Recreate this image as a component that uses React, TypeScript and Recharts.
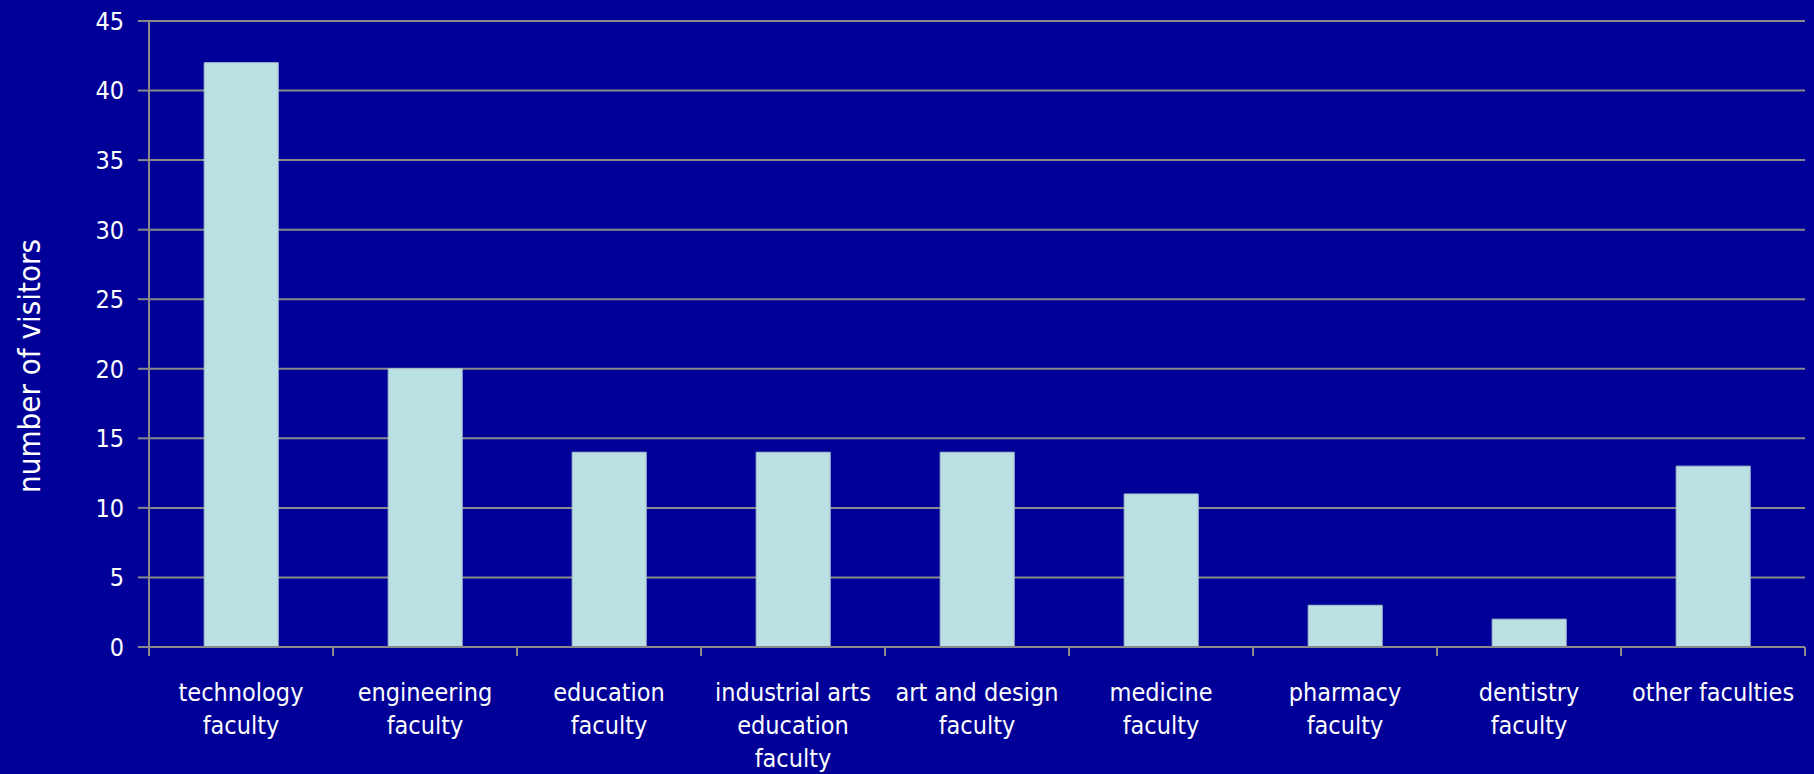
import { BarChart, Bar, XAxis, YAxis, CartesianGrid } from "recharts";

// faculty names, line breaks as in the original chart
const categories = [
  "technology\nfaculty",
  "engineering\nfaculty",
  "education\nfaculty",
  "industrial arts\neducation\nfaculty",
  "art and design\nfaculty",
  "medicine\nfaculty",
  "pharmacy\nfaculty",
  "dentistry\nfaculty",
  "other faculties",
];
const visitors = [42, 20, 14, 14, 14, 11, 3, 2, 13];
const yTicks = [0, 5, 10, 15, 20, 25, 30, 35, 40, 45];

const W = 1814;
const H = 774;
const BG = "#000099";
const BAR = "#BBE0E3";
const GRID = "#8a8a8a";
const FONT = "'DejaVu Sans Condensed', 'DejaVu Sans', sans-serif";

const data = categories.map((name, i) => ({ name, value: visitors[i] }));

const CategoryTick = (props: any) => {
  const { x, y, payload, index } = props;
  const half = payload?.offset ?? (W - 149 - 9) / categories.length / 2;
  const lines = String(payload.value).split("\n");
  return (
    <g>
      <line x1={x - half} y1={y} x2={x - half} y2={y + 9} stroke={GRID} strokeWidth={2} />
      {index === categories.length - 1 && (
        <line x1={x + half} y1={y} x2={x + half} y2={y + 9} stroke={GRID} strokeWidth={2} />
      )}
      <text x={x} y={y + 54} textAnchor="middle" fill="#fff" fontSize={25} fontFamily={FONT}>
        {lines.map((l, i) => (
          <tspan key={i} x={x} dy={i === 0 ? 0 : 33}>
            {l}
          </tspan>
        ))}
      </text>
    </g>
  );
};

const YLabel = (props: any) => {
  const vb = props.viewBox || {};
  const cx = 29;
  const cy = vb.y + vb.height / 2 + 32;
  return (
    <text
      x={cx}
      y={cy}
      transform={`rotate(-90, ${cx}, ${cy})`}
      textAnchor="middle"
      dominantBaseline="central"
      fill="#fff"
      fontSize={31}
      fontFamily={FONT}
    >
      number of visitors
    </text>
  );
};

export default function App() {
  return (
    <div style={{ position: "absolute", left: 0, top: 0, width: W, height: H, background: BG }}>
      <BarChart
        width={W}
        height={H}
        data={data}
        margin={{ top: 21, right: 9, left: 0, bottom: 0 }}
        barCategoryGap="30%"
      >
        <CartesianGrid horizontal vertical={false} stroke={GRID} strokeWidth={2} />
        <XAxis
          dataKey="name"
          interval={0}
          height={127}
          tickSize={0}
          tickMargin={0}
          tickLine={false}
          axisLine={{ stroke: GRID, strokeWidth: 2 }}
          tick={<CategoryTick />}
        />
        <YAxis
          width={149}
          domain={[0, 45]}
          ticks={yTicks}
          interval={0}
          tickSize={11}
          tickMargin={14}
          axisLine={{ stroke: GRID, strokeWidth: 2 }}
          tickLine={{ stroke: GRID, strokeWidth: 2 }}
          tick={{ fill: "#fff", fontSize: 25, fontFamily: FONT }}
          label={<YLabel />}
        />
        <Bar dataKey="value" fill={BAR} stroke="#a9c6cc" strokeWidth={1} isAnimationActive={false} />
      </BarChart>
    </div>
  );
}
